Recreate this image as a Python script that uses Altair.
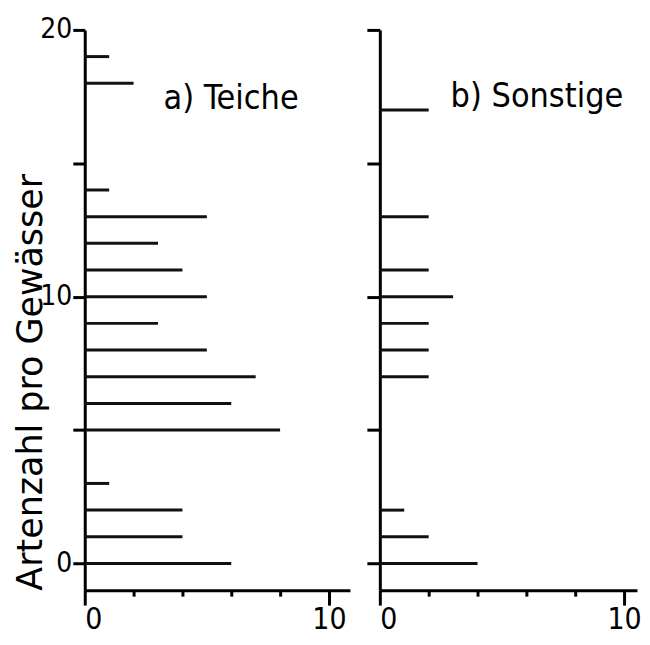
import altair as alt
import pandas as pd

# Panel a) Teiche
teiche_y = [0, 1, 2, 3, 5, 6, 7, 8, 9, 10, 11, 12, 13, 14, 18, 19]
teiche_n = [6, 4, 4, 1, 8, 6, 7, 5, 3, 5, 4, 3, 5, 1, 2, 1]
# Panel b) Sonstige
sonst_y = [0, 1, 2, 7, 8, 9, 10, 11, 13, 17]
sonst_n = [4, 2, 1, 2, 2, 2, 3, 2, 2, 2]

y_ticks = [0, 5, 10, 15, 20]
x_ticks = [0, 2, 4, 6, 8, 10]
titles = ["a) Teiche", "b) Sonstige"]
y_title = "Artenzahl pro Gewässer"

FONT = "DejaVu Sans Condensed"
H = 562

df_a = pd.DataFrame({"y": teiche_y, "n": teiche_n})
df_b = pd.DataFrame({"y": sonst_y, "n": sonst_n})


def panel(df, title, show_labels, dx, dy, width, xmax):
    xaxis = alt.Axis(
        values=x_ticks,
        labelExpr="datum.value % 10 == 0 ? datum.label : ''",
        tickSize={"condition": {"test": "datum.value % 10 == 0", "value": 15}, "value": 6},
        labelPadding=-1,
        labelFontSize=30,
        grid=False,
        title=None,
    )
    if show_labels:
        yaxis = alt.Axis(
            values=y_ticks,
            labelExpr="datum.value % 10 == 0 ? datum.label : ''",
            tickSize=12,
            labelPadding=1,
            labelFontSize=28,
            grid=False,
            title=y_title,
            titleFont="DejaVu Sans",
            titleFontSize=35,
            titleFontWeight="normal",
            titleAnchor="start",
            titlePadding=-9,
            titleColor="black",
        )
    else:
        yaxis = alt.Axis(values=y_ticks, labels=False, tickSize=13, grid=False, title=None)
    return (
        alt.Chart(df)
        .mark_rule(color="#111111", strokeWidth=3)
        .encode(
            x=alt.X("n:Q", scale=alt.Scale(domain=[0, xmax], nice=False, zero=False), axis=xaxis),
            x2=alt.X2Datum(0),
            y=alt.Y("y:Q", scale=alt.Scale(domain=[-1, 20], nice=False, zero=False), axis=yaxis),
        )
        .properties(
            width=width,
            height=H,
            title=alt.TitleParams(
                title, anchor="start", frame="group", dx=dx, dy=dy, font=FONT,
                fontSize=34, fontWeight="normal", color="black", offset=0,
            ),
        )
    )


chart = (
    alt.hconcat(
        panel(df_a, titles[0], True, 79, 100, 266, 10.86),
        panel(df_b, titles[1], False, 71, 86, 258, 10.53),
        spacing=15,
    )
    .properties(padding={"left": 5, "top": 7, "right": 0, "bottom": 0})
    .configure_view(stroke=None)
    .configure_axis(
        domainColor="black", domainWidth=3, tickColor="black", tickWidth=3,
        labelFont=FONT, labelColor="black",
    )
)

chart.save("out.html", embed_options={"renderer": "svg", "actions": False})
